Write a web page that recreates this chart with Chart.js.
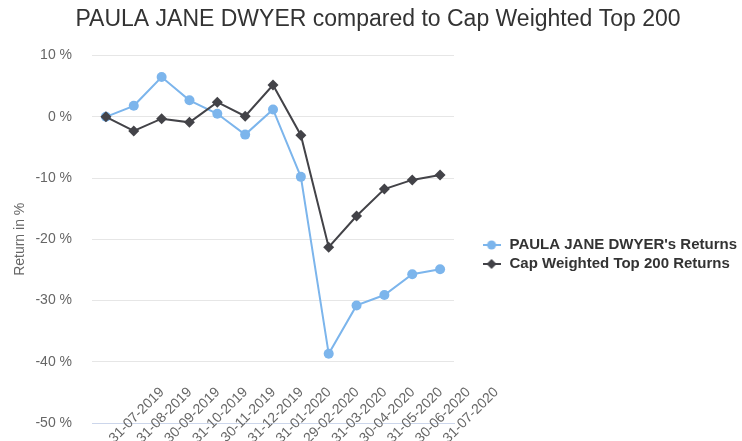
<!DOCTYPE html>
<html>
<head>
<meta charset="utf-8">
<script src="https://cdn.jsdelivr.net/npm/chart.js@4.4.1/dist/chart.umd.min.js"></script>
<style>
  body { margin: 0; background: #fff; }
  #wrap { width: 742px; height: 441px; }
</style>
</head>
<body>
<div id="wrap"><canvas id="grafico"></canvas></div>
<script>
var datas = ['31-07-2019', '31-08-2019', '30-09-2019', '31-10-2019', '30-11-2019', '31-12-2019',
    '31-01-2020', '29-02-2020', '31-03-2020', '30-04-2020', '31-05-2020', '30-06-2020', '31-07-2020'];
var retornoPaula = [0, 1.8, 6.5, 2.7, 0.5, -2.9, 1.2, -9.8, -38.7, -30.8, -29.1, -25.7, -24.9];
var retornoTop200 = [0, -2.3, -0.3, -0.9, 2.4, 0.1, 5.2, -3.0, -21.3, -16.2, -11.8, -10.3, -9.5];
var yTicks = [10, 0, -10, -20, -30, -40, -50];

var azul = '#7cb5ec';
var cinza = '#434348';
var fonte = '"Liberation Sans", Arial, sans-serif';

// simbolo da legenda: linha com o marcador no meio
function simbolo(cor, tipo) {
    var c = document.createElement('canvas');
    c.width = 18;
    c.height = 12;
    var ctx = c.getContext('2d');
    ctx.strokeStyle = cor;
    ctx.lineWidth = 2;
    ctx.beginPath();
    ctx.moveTo(0, 6);
    ctx.lineTo(18, 6);
    ctx.stroke();
    ctx.fillStyle = cor;
    ctx.beginPath();
    if (tipo == 'circle') {
        ctx.arc(9, 6, 4.5, 0, Math.PI * 2);
    } else {
        ctx.moveTo(9, 1);
        ctx.lineTo(14, 6);
        ctx.lineTo(9, 11);
        ctx.lineTo(4, 6);
        ctx.closePath();
    }
    ctx.fill();
    return c;
}

var simbolos = [simbolo(azul, 'circle'), simbolo(cinza, 'diamond')];

var context = document.getElementById('grafico');

var chartGraph = new Chart(context, {
    type: 'line',
    data: {
        labels: datas,
        datasets: [{
            label: "PAULA JANE DWYER's Returns",
            data: retornoPaula,
            borderColor: azul,
            backgroundColor: azul,
            borderWidth: 2,
            pointRadius: 5,
            pointStyle: 'circle',
            pointBorderWidth: 0,
            tension: 0,
            order: 1
        }, {
            label: 'Cap Weighted Top 200 Returns',
            data: retornoTop200,
            borderColor: cinza,
            backgroundColor: cinza,
            borderWidth: 2,
            pointRadius: 5.5,
            pointStyle: 'rectRot',
            pointBorderWidth: 0,
            tension: 0,
            order: 0
        }]
    },
    options: {
        responsive: true,
        maintainAspectRatio: false,
        animation: false,
        layout: {
            padding: { left: 9, right: -5, top: 0, bottom: 0 }
        },
        plugins: {
            title: {
                display: true,
                text: 'PAULA JANE DWYER compared to Cap Weighted Top 200',
                color: '#333333',
                font: { family: fonte, size: 23, weight: 'normal' },
                padding: { top: 6, bottom: 22 }
            },
            legend: {
                position: 'right',
                align: 'center',
                maxWidth: 320,
                title: {
                    display: true,
                    text: ' ',
                    font: { family: fonte, size: 10 },
                    padding: { top: 56, bottom: 0 }
                },
                labels: {
                    usePointStyle: true,
                    pointStyleWidth: 21,
                    color: '#333333',
                    padding: 4,
                    font: { family: fonte, size: 15, weight: 'bold' },
                    generateLabels: function (chart) {
                        return chart.data.datasets.map(function (ds, i) {
                            return {
                                text: ds.label,
                                pointStyle: simbolos[i],
                                fillStyle: ds.borderColor,
                                strokeStyle: ds.borderColor,
                                lineWidth: 0,
                                fontColor: '#333333',
                                hidden: false,
                                datasetIndex: i
                            };
                        });
                    }
                }
            },
            tooltip: { enabled: false }
        },
        scales: {
            x: {
                offset: true,
                grid: { display: false, drawTicks: false },
                border: { display: true, color: '#ccd6eb', width: 1 },
                ticks: {
                    autoSkip: false,
                    minRotation: 45,
                    maxRotation: 45,
                    mirror: true,
                    color: '#666666',
                    font: { family: fonte, size: 14 },
                    padding: 27,
                    labelOffset: 68
                },
                afterFit: function (scale) {
                    scale.height = 18;
                }
            },
            y: {
                min: -50,
                max: 10,
                afterBuildTicks: function (scale) {
                    scale.ticks = yTicks.map(function (v) { return { value: v }; });
                },
                grid: { color: '#e6e6e6', drawTicks: true, tickLength: 20, tickColor: 'rgba(0,0,0,0)' },
                border: { display: false },
                ticks: {
                    color: '#666666',
                    font: { family: fonte, size: 14 },
                    padding: 0,
                    callback: function (v) { return v + ' %'; }
                },
                title: {
                    display: true,
                    text: 'Return in %',
                    color: '#666666',
                    font: { family: fonte, size: 14 },
                    padding: { top: 3, bottom: 0 }
                },
                afterFit: function (scale) {
                    scale.width = 83;
                }
            },
            // espaco vazio entre a area do grafico e a legenda
            espaco: {
                type: 'linear',
                position: 'right',
                display: true,
                grid: { display: false, drawTicks: false },
                border: { display: false },
                ticks: { display: false },
                afterFit: function (scale) {
                    scale.width = 23;
                }
            }
        }
    }
});
</script>
</body>
</html>
